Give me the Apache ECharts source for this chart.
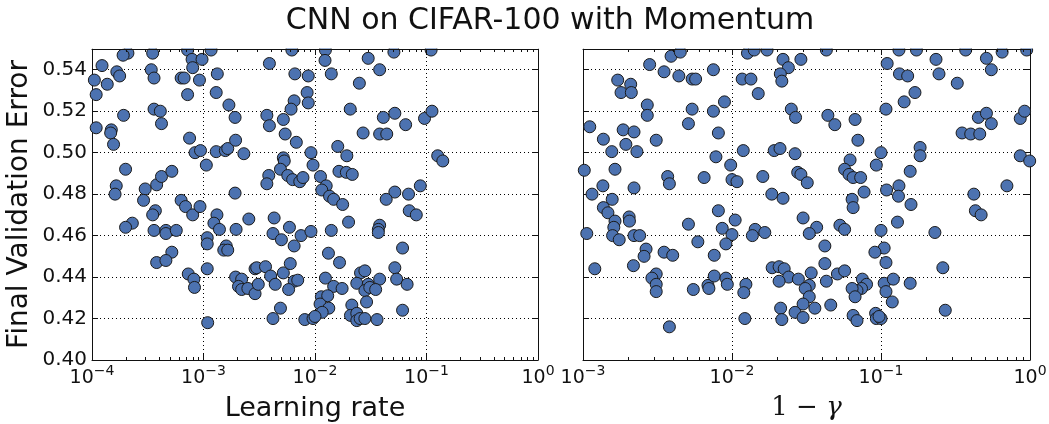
<!DOCTYPE html>
<html>
<head>
<meta charset="utf-8">
<script src="https://cdn.jsdelivr.net/npm/echarts@6/dist/echarts.min.js"></script>
<style>
  html, body { margin: 0; padding: 0; background: #fff; }
  #chart { width: 1049px; height: 424px; }
</style>
</head>
<body>
<div id="chart"></div>
<script>
// learning rate vs final validation error (left panel)
const lrPoints = [
  [2.1e-4,0.548],[1.9e-4,0.547],[3.5e-4,0.548],[7.2e-4,0.5495],[7.9e-4,0.545],[9.7e-4,0.545],[8.0e-4,0.541],[1.17e-3,0.5495],
  [1.23e-4,0.542],[1.67e-4,0.539],[1.77e-4,0.537],[1.05e-4,0.535],[1.37e-4,0.533],[1.09e-4,0.528],
  [3.4e-4,0.540],[3.6e-4,0.536],[6.3e-4,0.536],[6.7e-4,0.536],[9.2e-4,0.535],[1.33e-3,0.538],[7.2e-4,0.528],[1.30e-3,0.529],[1.69e-3,0.523],[1.92e-3,0.517],
  [3.9e-3,0.543],[6.2e-3,0.5495],[6.6e-3,0.538],[8.7e-3,0.537],[8.5e-3,0.529],[8.7e-3,0.524],[6.5e-3,0.525],[6.1e-3,0.521],[3.7e-3,0.518],[3.9e-3,0.513],
  [5.2e-3,0.516],[5.4e-3,0.509],[6.8e-3,0.505],[9.2e-3,0.500],[9.6e-3,0.494],[5.2e-3,0.4975],[5.3e-3,0.496],[4.9e-3,0.492],[3.85e-3,0.489],[3.7e-3,0.485],
  [5.7e-3,0.489],[6.3e-3,0.487],[7.3e-3,0.486],[7.8e-3,0.488],
  [1.09e-4,0.512],[1.49e-4,0.511],[1.47e-4,0.5095],[1.56e-4,0.504],[1.92e-4,0.518],[3.6e-4,0.521],[4.1e-4,0.520],[4.2e-4,0.514],[7.5e-4,0.507],[8.4e-4,0.500],
  [9.4e-4,0.501],[1.06e-3,0.494],[1.30e-3,0.5005],[1.57e-3,0.501],[1.65e-3,0.502],[1.94e-3,0.506],[2.3e-3,0.4995],
  [2.0e-4,0.492],[1.65e-4,0.484],[1.61e-4,0.480],[3.0e-4,0.4825],[3.8e-4,0.4845],[4.2e-4,0.4885],[5.2e-4,0.491],[6.3e-4,0.477],[1.92e-3,0.4805],[2.9e-4,0.477],
  [3.7e-4,0.472],[3.5e-4,0.470],[6.9e-4,0.474],[8.0e-4,0.470],[9.3e-4,0.474],[2.3e-4,0.466],[2.0e-4,0.464],[3.6e-4,0.4625],[4.6e-4,0.4625],[4.6e-4,0.461],
  [5.7e-4,0.4625],[5.2e-4,0.452],[3.8e-4,0.447],[4.6e-4,0.448],[7.3e-4,0.4415],[8.2e-4,0.439],[8.3e-4,0.435],[1.08e-3,0.459],[1.08e-3,0.456],[1.32e-3,0.470],
  [1.24e-3,0.466],[1.39e-3,0.463],[1.6e-3,0.455],[1.52e-3,0.453],[1.65e-3,0.453],[1.08e-3,0.444],[1.09e-3,0.418],[1.96e-3,0.463],[2.55e-3,0.468],[4.3e-3,0.4685],
  [4.2e-3,0.461],[5.0e-3,0.458],[5.9e-3,0.464],[6.5e-3,0.455],[7.5e-3,0.460],[9.2e-3,0.462],
  [1.94e-3,0.440],[2.2e-3,0.439],[2.06e-3,0.4355],[2.2e-3,0.434],[2.5e-3,0.4345],[2.9e-3,0.432],[3.1e-3,0.4365],[2.9e-3,0.444],[3.0e-3,0.4445],[3.6e-3,0.445],
  [4.0e-3,0.4405],[4.4e-3,0.4365],[5.2e-3,0.442],[6.0e-3,0.4465],[6.5e-3,0.438],[7.0e-3,0.4385],[5.8e-3,0.434],[4.9e-3,0.425],[4.2e-3,0.420],[8.1e-3,0.4195],[9.6e-3,0.420],
  [1.24e-2,0.5495],[1.23e-2,0.5445],[3.0e-2,0.5455],[5.1e-2,0.5485],[3.8e-2,0.540],[1.1e-1,0.5495],[1.4e-2,0.538],[2.5e-2,0.5335],[2.07e-2,0.521],[4.1e-2,0.517],
  [5.2e-2,0.519],[6.5e-2,0.5135],[9.6e-2,0.5165],[1.12e-1,0.520],[2.7e-2,0.5095],[3.8e-2,0.509],[4.4e-2,0.509],[1.6e-2,0.503],[1.93e-2,0.4985],[1.64e-2,0.491],
  [1.91e-2,0.4905],[2.16e-2,0.4895],[1.12e-2,0.4885],[1.26e-2,0.484],[1.15e-2,0.482],[8.8e-2,0.484],[5.2e-2,0.481],[6.9e-2,0.480],[4.35e-2,0.4775],[1.26e-1,0.4985],[1.4e-1,0.496],
  [1.35e-2,0.479],[1.47e-2,0.4775],[1.77e-2,0.475],[7.0e-2,0.472],[8.1e-2,0.470],[2.0e-2,0.4665],[1.4e-2,0.4625],[3.8e-2,0.465],[3.7e-2,0.463],[3.7e-2,0.4615],
  [6.1e-2,0.454],[1.32e-2,0.4515],[1.66e-2,0.447],[5.2e-2,0.4445],[1.24e-2,0.4395],[1.47e-2,0.4355],[1.75e-2,0.4345],[2.56e-2,0.442],[2.8e-2,0.443],[2.37e-2,0.437],
  [3.0e-2,0.4365],[3.8e-2,0.439],[5.4e-2,0.439],[6.7e-2,0.4365],[2.8e-2,0.4335],[3.1e-2,0.435],[3.5e-2,0.434],[2.9e-2,0.428],[1.14e-2,0.4305],[1.3e-2,0.431],
  [1.11e-2,0.427],[1.33e-2,0.425],[1.16e-2,0.423],[1.0e-2,0.421],[2.14e-2,0.4265],[2.08e-2,0.4215],[2.37e-2,0.4225],[2.37e-2,0.419],[2.54e-2,0.420],[2.8e-2,0.420],
  [3.6e-2,0.4195],[6.1e-2,0.424]
];

// 1 - gamma vs final validation error (right panel)
const gammaPoints = [
  [2.8e-3,0.5425],[3.9e-3,0.5465],[4.5e-3,0.5485],[3.5e-3,0.539],[4.4e-3,0.537],[5.4e-3,0.5355],[5.7e-3,0.5355],[7.5e-3,0.540],[1.71e-3,0.535],[2.09e-3,0.533],
  [1.8e-3,0.529],[2.11e-3,0.529],[2.7e-3,0.523],[2.7e-3,0.518],[1.11e-3,0.5125],[1.37e-3,0.5065],[1.86e-3,0.511],[2.2e-3,0.510],[1.94e-3,0.504],[2.3e-3,0.5005],
  [1.56e-3,0.5005],[3.1e-3,0.506],[5.4e-3,0.521],[5.1e-3,0.514],[7.5e-3,0.520],[8.9e-3,0.5245],[8.1e-3,0.5095],[7.8e-3,0.498],[9.8e-3,0.494],[1.0e-2,0.487],
  [1.08e-2,0.486],[6.5e-3,0.488],[3.7e-3,0.4885],[3.8e-3,0.485],[1.64e-3,0.492],[1.02e-3,0.4915],[1.36e-3,0.484],[1.15e-3,0.480],[2.2e-3,0.483],[1.57e-3,0.4775],
  [1.19e-2,0.501],[1.27e-2,0.548],[1.41e-2,0.5495],[1.72e-2,0.5495],[1.17e-2,0.5355],[1.34e-2,0.5355],[1.5e-2,0.5285],[2.2e-2,0.545],[2.39e-2,0.541],[2.11e-2,0.538],
  [2.16e-2,0.5345],[1.92e-2,0.501],[2.1e-2,0.502],[1.61e-2,0.4885],[1.85e-2,0.480],[2.2e-2,0.478],[2.5e-2,0.521],[2.67e-2,0.517],[2.65e-2,0.4995],[2.76e-2,0.4905],
  [2.9e-2,0.545],[2.9e-2,0.4895],[3.2e-2,0.4855],[4.4e-2,0.518],[4.9e-2,0.5135],[6.7e-2,0.516],[7.0e-2,0.506],[1.0e-1,0.500],[9.3e-2,0.494],[6.2e-2,0.4965],
  [5.7e-2,0.492],[6.1e-2,0.4895],[6.5e-2,0.488],[7.3e-2,0.488],[7.7e-2,0.481],[6.4e-2,0.4775],[1.1e-1,0.543],[1.33e-1,0.538],[1.51e-1,0.537],[2.34e-1,0.545],
  [2.45e-1,0.538],[3.25e-1,0.5335],[5.1e-1,0.5455],[5.5e-1,0.540],[6.5e-1,0.5485],[1.69e-1,0.529],[1.43e-1,0.5245],[1.08e-1,0.521],[1.83e-1,0.5025],[1.83e-1,0.4985],
  [1.57e-1,0.491],[1.09e-1,0.482],[1.32e-1,0.484],[1.31e-1,0.479],[1.59e-1,0.475],[4.5e-1,0.517],[5.1e-1,0.519],[5.5e-1,0.514],[3.5e-1,0.5095],[4.0e-1,0.509],
  [4.6e-1,0.509],[8.6e-1,0.5165],[9.2e-1,0.520],[8.6e-1,0.4985],[0.995,0.496],[7.0e-1,0.484],[4.2e-1,0.480],[4.3e-2,0.5495],[1.32e-1,0.5495],[1.73e-1,0.5495],
  [3.7e-1,0.5495],[9.5e-1,0.5495],
  [1.37e-3,0.4735],[1.47e-3,0.471],[1.64e-3,0.467],[2.04e-3,0.469],[2.05e-3,0.467],[1.61e-3,0.464],[1.58e-3,0.460],[1.75e-3,0.458],[1.06e-3,0.461],[2.2e-3,0.460],
  [2.4e-3,0.460],[1.2e-3,0.444],[2.18e-3,0.4455],[2.65e-3,0.4535],[2.57e-3,0.450],[3.5e-3,0.452],[4.0e-3,0.4505],[5.1e-3,0.4655],[5.9e-3,0.457],[8.1e-3,0.472],
  [8.6e-3,0.4635],[1.05e-2,0.4675],[1.0e-2,0.4605],[9.1e-3,0.456],[7.6e-3,0.4505],[3.1e-3,0.4415],[2.9e-3,0.4395],[3.1e-3,0.4365],[3.1e-3,0.433],[3.8e-3,0.416],
  [5.5e-3,0.434],[6.9e-3,0.436],[7.0e-3,0.4345],[7.6e-3,0.4405],[9.1e-3,0.4395],[9.3e-3,0.4365],[1.24e-2,0.4365],[1.2e-2,0.4325],[1.22e-2,0.420],[1.43e-2,0.463],
  [1.37e-2,0.460],[1.66e-2,0.4615],[1.86e-2,0.4445],[2.07e-2,0.445],[2.24e-2,0.444],[2.4e-2,0.440],[2.07e-2,0.438],[2.12e-2,0.425],[2.16e-2,0.4195],[2.65e-2,0.423],
  [6.5e-2,0.4735],[4.3e-1,0.472],[4.7e-1,0.470],[3.0e-2,0.4685],[3.7e-2,0.464],[3.3e-2,0.461],[5.3e-2,0.465],[5.7e-2,0.463],[4.2e-2,0.455],[1.29e-1,0.4665],
  [1.0e-1,0.4625],[2.3e-1,0.4615],[1.05e-1,0.454],[9.1e-2,0.452],[1.08e-1,0.447],[4.2e-2,0.4465],[3.4e-2,0.442],[5.1e-2,0.4415],[5.7e-2,0.443],[2.79e-2,0.439],
  [4.3e-2,0.438],[3.3e-2,0.436],[3.1e-2,0.4345],[3.3e-2,0.4305],[3.0e-2,0.427],[3.0e-2,0.4205],[3.6e-2,0.425],[4.6e-2,0.4265],[7.5e-2,0.439],[8.0e-2,0.4365],
  [7.4e-2,0.4345],[6.9e-2,0.4335],[6.4e-2,0.4345],[6.7e-2,0.4305],[6.5e-2,0.4215],[6.9e-2,0.419],[1.05e-1,0.437],[1.08e-1,0.433],[1.21e-1,0.439],[1.57e-1,0.437],
  [1.19e-1,0.428],[9.2e-2,0.4225],[9.3e-2,0.420],[1.0e-1,0.420],[9.7e-2,0.421],[2.6e-1,0.4445],[2.7e-1,0.424]
];

const lrRange = [1e-4, 1];
const gammaRange = [1e-3, 1];
const errRange = [0.40, 0.55];
const errStep = 0.02;

const FONT = 'DejaVu Sans';
const INK = '#111';
const DOT = '#4c72b0';

function logLabel(v) {
  const e = Math.round(Math.log10(v));
  return '{b|10}{s|' + (e < 0 ? '\u2212' + (-e) : e) + '}';
}

const logRich = {
  b: { fontFamily: FONT, fontSize: 19, color: INK, lineHeight: 24, verticalAlign: 'bottom' },
  s: { fontFamily: FONT, fontSize: 14, color: INK, lineHeight: 24, verticalAlign: 'top', padding: [0, 0, 8, 0] }
};

const dotted = { show: true, lineStyle: { color: '#000', width: 1, type: [1, 3] } };
const tickIn = { show: true, inside: true, length: 6, lineStyle: { color: INK, width: 1 } };
const frame = { show: true, onZero: false, lineStyle: { color: INK, width: 1 } };

function xPair(grid, range, name, nameStyle) {
  return [
    {
      gridIndex: grid, type: 'log', logBase: 10, min: range[0], max: range[1], position: 'bottom',
      axisLine: frame, axisTick: tickIn, splitLine: dotted,
      axisLabel: { formatter: logLabel, rich: logRich, margin: 4 },
      name: name, nameLocation: 'middle', nameGap: 35, nameTextStyle: nameStyle
    },
    {
      gridIndex: grid, type: 'log', logBase: 10, min: range[0], max: range[1], position: 'top', z: 5,
      axisLine: frame, axisTick: tickIn, splitLine: { show: false }, axisLabel: { show: false }
    }
  ];
}

function yPair(grid, withLabels) {
  return [
    {
      gridIndex: grid, type: 'value', min: errRange[0], max: errRange[1], interval: errStep, position: 'left',
      axisLine: frame, axisTick: tickIn, splitLine: dotted,
      axisLabel: {
        show: withLabels, fontFamily: FONT, fontSize: 20, color: INK, margin: 5,
        formatter: (v) => (Math.abs(v - errRange[1]) < 1e-9 ? '' : v.toFixed(2))
      },
      name: withLabels ? 'Final Validation Error' : '', nameLocation: 'middle', nameGap: 58, nameRotate: 90,
      nameTextStyle: { fontFamily: FONT, fontSize: 28, color: INK }
    },
    {
      gridIndex: grid, type: 'value', min: errRange[0], max: errRange[1], interval: errStep, position: 'right',
      axisLine: frame, axisTick: tickIn, splitLine: { show: false }, axisLabel: { show: false }
    }
  ];
}

const chart = echarts.init(document.getElementById('chart'), null, { renderer: 'canvas' });

chart.setOption({
  animation: false,
  backgroundColor: '#fff',
  title: {
    text: 'CNN on CIFAR-100 with Momentum', left: 545, textAlign: 'center', top: 1,
    textStyle: { fontFamily: FONT, fontSize: 30, fontWeight: 'normal', color: INK }
  },
  grid: [
    { left: 92, top: 49, width: 446, height: 311, outerBoundsMode: 'none' },
    { left: 583, top: 49, width: 447, height: 311, outerBoundsMode: 'none' }
  ],
  xAxis: [
    ...xPair(0, lrRange, 'Learning rate', { fontFamily: FONT, fontSize: 27, color: INK }),
    ...xPair(1, gammaRange, '{n|1 \u2212 }{g|\u03b3}', {
      rich: {
        n: { fontFamily: 'DejaVu Serif', fontSize: 26, color: INK },
        g: { fontFamily: 'DejaVu Serif', fontStyle: 'italic', fontSize: 26, color: INK }
      }
    })
  ],
  yAxis: [...yPair(0, true), ...yPair(1, false)],
  series: [
    {
      type: 'scatter', xAxisIndex: 0, yAxisIndex: 0, data: lrPoints, symbolSize: 12, clip: false, silent: true,
      itemStyle: { color: DOT, borderColor: '#1a1a1a', borderWidth: 1, opacity: 1 }
    },
    {
      type: 'scatter', xAxisIndex: 2, yAxisIndex: 2, data: gammaPoints, symbolSize: 12, clip: false, silent: true,
      itemStyle: { color: DOT, borderColor: '#1a1a1a', borderWidth: 1, opacity: 1 }
    }
  ]
});

// minor log ticks (2..9 per decade) on top and bottom, plus a mask above the frames
const extras = [];
const yBottom = chart.convertToPixel({ yAxisIndex: 0 }, errRange[0]);
const yTop = chart.convertToPixel({ yAxisIndex: 0 }, errRange[1]);
[[0, lrRange], [2, gammaRange]].forEach(([axis, range]) => {
  for (let d = range[0]; d < range[1]; d *= 10) {
    for (let m = 2; m <= 9; m++) {
      const x = Math.round(chart.convertToPixel({ xAxisIndex: axis }, d * m)) + 0.5;
      extras.push({ type: 'line', z: 6, silent: true, shape: { x1: x, y1: yBottom, x2: x, y2: yBottom - 3 }, style: { stroke: INK, lineWidth: 1 } });
      extras.push({ type: 'line', z: 6, silent: true, shape: { x1: x, y1: yTop, x2: x, y2: yTop + 3 }, style: { stroke: INK, lineWidth: 1 } });
    }
  }
});
const leftEdge = chart.convertToPixel({ xAxisIndex: 0 }, lrRange[0]);
const rightEdge = chart.convertToPixel({ xAxisIndex: 2 }, gammaRange[1]);
extras.push({
  type: 'rect', z: 3, silent: true,
  shape: { x: leftEdge - 8, y: yTop - 10, width: rightEdge - leftEdge + 16, height: 9.5 },
  style: { fill: '#fff' }
});
chart.setOption({ graphic: { elements: extras } });
</script>
</body>
</html>
